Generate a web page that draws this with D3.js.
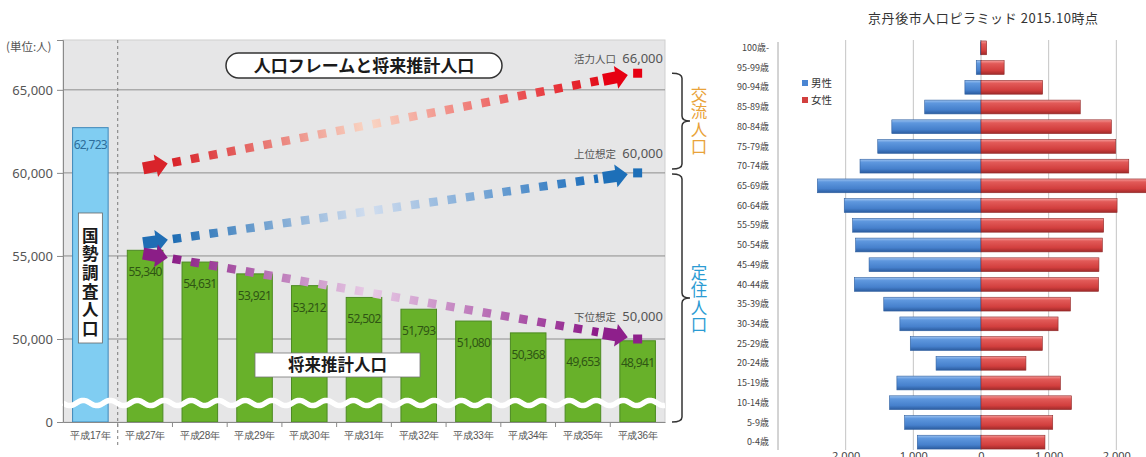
<!DOCTYPE html>
<html>
<head>
<meta charset="utf-8">
<script src="https://cdn.jsdelivr.net/npm/d3@7"></script>
<style>
  html, body { margin: 0; padding: 0; background: #fff; }
  svg { display: block; font-family: "Noto Sans CJK JP", "Noto Sans", sans-serif; }
</style>
</head>
<body>
<svg id="chart" width="1146" height="457"></svg>
<script>
// ---- 人口フレームと将来推計人口 ----
const years = ["平成17年", "平成27年", "平成28年", "平成29年", "平成30年", "平成31年",
               "平成32年", "平成33年", "平成34年", "平成35年", "平成36年"];
const population = [62723, 55340, 54631, 53921, 53212, 52502, 51793, 51080, 50368, 49653, 48941];
const yTicks = [0, 50000, 55000, 60000, 65000];

// 将来の想定 (活力人口 / 上位想定 / 下位想定)
const scenarioNames = ["活力人口", "上位想定", "下位想定"];
const scenarioStart = [60300, 55780, 55120];
const scenarioEnd = [66000, 60000, 50000];

// ---- 京丹後市人口ピラミッド 2015.10時点 ----
const ageGroups = ["0-4歳", "5-9歳", "10-14歳", "15-19歳", "20-24歳", "25-29歳", "30-34歳",
                   "35-39歳", "40-44歳", "45-49歳", "50-54歳", "55-59歳", "60-64歳", "65-69歳",
                   "70-74歳", "75-79歳", "80-84歳", "85-89歳", "90-94歳", "95-99歳", "100歳-"];
const male   = [941, 1129, 1352, 1243, 664, 1045, 1199, 1437, 1872, 1654, 1853, 1897, 2021, 2418,
                1788, 1526, 1318, 832, 238, 70, 8];
const female = [945, 1060, 1337, 1174, 664, 906, 1139, 1322, 1738, 1743, 1793, 1813, 2011, 2650,
                2184, 1991, 1927, 1467, 911, 342, 84];
const pyramidTicks = [-2000, -1000, 0, 1000, 2000];
const sexLabels = ["男性", "女性"];

// colours
const scenarioColors = [
  { strong: "#e60012", end: "#e3101c", pale: "#f9d6c4", start: "#d9232a" },
  { strong: "#1d6fb8", end: "#1b6dbb", pale: "#d2deef", start: "#1f6db4" },
  { strong: "#8e1f8b", end: "#8d1a89", pale: "#e8cce6", start: "#8b1e87" }
];
// gap between each scenario's label and its end marker
const scenarioLabelGap = [10, 15, 18];

const svg = d3.select("#chart");
const defs = svg.append("defs");

/* ================= left chart ================= */
const plot = { left: 63, right: 665, top: 40, bottom: 422 };
const x = d3.scaleBand().domain(years).range([plot.left, plot.right])
  .paddingInner(0.35).paddingOuter(0.175);
// broken axis: 0 at the baseline, 50,000–68,000 stretched above the break
const y = d3.scaleLinear().domain([0, 50000, 68000]).range([plot.bottom, 339, plot.top]);

const left = svg.append("g");

left.append("rect")
  .attr("x", plot.left).attr("y", plot.top)
  .attr("width", plot.right - plot.left).attr("height", plot.bottom - plot.top)
  .attr("fill", "#e6e6e7").attr("stroke", "#cfcfcf");

// horizontal grid
left.append("g").selectAll("line")
  .data(yTicks.filter(d => d > 0))
  .join("line")
  .attr("x1", plot.left).attr("x2", plot.right)
  .attr("y1", d => y(d)).attr("y2", d => y(d))
  .attr("stroke", "#8e8e8e").attr("stroke-width", 1);

// dashed separator between 国勢調査 and 将来推計
const sepX = x(years[1]) - x.step() * x.paddingInner() / 2;
left.append("line")
  .attr("x1", sepX).attr("x2", sepX)
  .attr("y1", plot.top).attr("y2", plot.bottom + 24)
  .attr("stroke", "#7a7a7a").attr("stroke-dasharray", "3,3").attr("stroke-width", 1);

// bars
const barData = years.map((d, i) => ({ year: d, value: population[i], census: i === 0 }));
left.append("g").selectAll("rect")
  .data(barData)
  .join("rect")
  .attr("x", d => x(d.year)).attr("width", x.bandwidth())
  .attr("y", d => y(d.value)).attr("height", d => y(0) - y(d.value))
  .attr("fill", d => d.census ? "#80cdf2" : "#68b12a")
  .attr("stroke", d => d.census ? "#3f88ba" : "#4c8a22")
  .attr("stroke-width", 1);

// value labels
left.append("g").selectAll("text")
  .data(barData)
  .join("text")
  .attr("x", d => x(d.year) + x.bandwidth() / 2)
  .attr("y", d => y(d.value) + (d.census ? 21 : 26))
  .attr("text-anchor", "middle")
  .attr("font-size", 12).attr("letter-spacing", -0.7)
  .attr("font-family", "'Noto Sans', sans-serif")
  .attr("fill", d => d.census ? "#2c6d9b" : "#2f5514")
  .text(d => d3.format(",")(d.value));

// wavy break line
const waveY = y(0) - 19;
const wavePts = d3.range(plot.left, plot.right + 1, 1)
  .map(px => [px, waveY + 2.6 * Math.sin((px - plot.left) / 27 * 2 * Math.PI)]);
left.append("path")
  .attr("d", d3.line()(wavePts))
  .attr("fill", "none").attr("stroke", "#fff").attr("stroke-width", 5.5);

// axes
const yAxis = left.append("g")
  .attr("transform", `translate(${plot.left},0)`)
  .call(d3.axisLeft(y).tickValues(yTicks).tickSize(6).tickPadding(4).tickFormat(d3.format(",")));
yAxis.select(".domain").attr("stroke", "#8a8a8a");
yAxis.selectAll(".tick line").attr("stroke", "#8a8a8a");
yAxis.selectAll(".tick text").attr("font-size", 13).attr("fill", "#555")
  .attr("font-family", "'Noto Sans', sans-serif");

const xAxis = left.append("g")
  .attr("transform", `translate(0,${plot.bottom})`)
  .call(d3.axisBottom(x).tickSize(0).tickPadding(10));
xAxis.select(".domain").attr("stroke", "#8a8a8a");
xAxis.selectAll(".tick text").attr("font-size", 10).attr("fill", "#555").attr("letter-spacing", -0.2);
// tick marks between categories
left.append("g").selectAll("line")
  .data(d3.range(1, years.length))
  .join("line")
  .attr("x1", i => plot.left + i * x.step()).attr("x2", i => plot.left + i * x.step())
  .attr("y1", plot.bottom).attr("y2", plot.bottom + 5)
  .attr("stroke", "#8a8a8a");

left.append("text")
  .attr("x", 6).attr("y", 51)
  .attr("font-size", 11.5).attr("fill", "#555")
  .text("(単位:人)");

// scenario arrows
const arrowShape = "M0,-6L13,-6L13,-11.5L25,0L13,11.5L13,6L0,6Z";
const xFrom = x(years[1]) + x.bandwidth() / 2;
const xTo = x(years[years.length - 1]) + x.bandwidth() / 2;

const scen = left.append("g");
scenarioNames.forEach((name, i) => {
  const c = scenarioColors[i];
  const A = [xFrom, y(scenarioStart[i])];
  const B = [xTo, y(scenarioEnd[i])];
  const len = Math.hypot(B[0] - A[0], B[1] - A[1]);
  const u = [(B[0] - A[0]) / len, (B[1] - A[1]) / len];
  const ang = Math.atan2(u[1], u[0]) * 180 / Math.PI;
  const at = t => [A[0] + u[0] * t, A[1] + u[1] * t];

  const p0 = at(28), p1 = at(len - 40);
  const gid = "scen" + i;
  const g = defs.append("linearGradient").attr("id", gid)
    .attr("gradientUnits", "userSpaceOnUse")
    .attr("x1", p0[0]).attr("y1", p0[1]).attr("x2", p1[0]).attr("y2", p1[1]);
  g.append("stop").attr("offset", 0).attr("stop-color", c.start);
  g.append("stop").attr("offset", 0.46).attr("stop-color", c.pale);
  g.append("stop").attr("offset", 1).attr("stop-color", c.end);

  scen.append("line")
    .attr("x1", p0[0]).attr("y1", p0[1]).attr("x2", p1[0]).attr("y2", p1[1])
    .attr("stroke", `url(#${gid})`).attr("stroke-width", 8.5)
    .attr("stroke-dasharray", "8.5,10");

  const s = at(-2);
  scen.append("path").attr("d", arrowShape)
    .attr("transform", `translate(${s[0]},${s[1]}) rotate(${ang})`)
    .attr("fill", c.start);
  const e = at(len - 35);
  scen.append("path").attr("d", arrowShape)
    .attr("transform", `translate(${e[0]},${e[1]}) rotate(${ang})`)
    .attr("fill", c.strong);
  scen.append("rect")
    .attr("x", B[0] - 4.5).attr("y", B[1] - 4.5).attr("width", 9).attr("height", 9)
    .attr("fill", c.strong);

  const ly = y(scenarioEnd[i]) - scenarioLabelGap[i];
  scen.append("text")
    .attr("x", 616).attr("y", ly)
    .attr("text-anchor", "end").attr("font-size", 10.5).attr("fill", "#555")
    .text(name);
  scen.append("text")
    .attr("x", 663).attr("y", ly)
    .attr("text-anchor", "end").attr("font-size", 13).attr("fill", "#555")
    .attr("font-family", "'Noto Sans', sans-serif")
    .text(d3.format(",")(scenarioEnd[i]));
});

// title pill
left.append("rect")
  .attr("x", 226).attr("y", 53).attr("width", 276).attr("height", 25).attr("rx", 12.5)
  .attr("fill", "#fff").attr("stroke", "#333").attr("stroke-width", 1.5);
left.append("text")
  .attr("x", 364).attr("y", 71.5).attr("text-anchor", "middle")
  .attr("font-size", 17).attr("font-weight", 700).attr("fill", "#1a1a1a")
  .text("人口フレームと将来推計人口");

// 将来推計人口 label box
left.append("rect")
  .attr("x", 255).attr("y", 353).attr("width", 165).attr("height", 24)
  .attr("fill", "#fff").attr("stroke", "#777").attr("stroke-width", 0.8);
left.append("text")
  .attr("x", 337.5).attr("y", 371).attr("text-anchor", "middle")
  .attr("font-size", 16.5).attr("font-weight", 700).attr("fill", "#1a1a1a")
  .text("将来推計人口");

// vertical (tategaki) text: one text element, glyphs stacked top to bottom
function verticalText(parent, str, cx, top, step, size, color, weight) {
  parent.append("text")
    .attr("x", cx).attr("y", top)
    .style("writing-mode", "vertical-rl")
    .style("text-orientation", "upright")
    .attr("font-size", size).attr("font-weight", weight)
    .attr("letter-spacing", step - size)
    .attr("fill", color)
    .text(str);
}

// 国勢調査人口 box
const cx0 = x(years[0]) + x.bandwidth() / 2;
left.append("rect")
  .attr("x", cx0 - 12).attr("y", 213).attr("width", 24).attr("height", 130)
  .attr("fill", "#fff").attr("stroke", "#666").attr("stroke-width", 0.8);
verticalText(left, "国勢調査人口", cx0, 227, 18.7, 16.5, "#1a1a1a", 700);

// brackets
function bracket(x0, yTop, yBot) {
  const xm = x0 + 10, tip = x0 + 18, ym = (yTop + yBot) / 2, r = 5;
  return `M${x0},${yTop}Q${xm},${yTop} ${xm},${yTop + r}L${xm},${ym - r}` +
         `Q${xm},${ym} ${tip},${ym}Q${xm},${ym} ${xm},${ym + r}` +
         `L${xm},${yBot - r}Q${xm},${yBot} ${x0},${yBot}`;
}
left.append("path").attr("d", bracket(672, y(66000), y(60000) - 4))
  .attr("fill", "none").attr("stroke", "#333").attr("stroke-width", 1.5);
left.append("path").attr("d", bracket(672, y(60000) + 1, y(0)))
  .attr("fill", "none").attr("stroke", "#333").attr("stroke-width", 1.5);
verticalText(left, "交流人口", 699, 86, 17.5, 16.5, "#e9a33a", 400);
verticalText(left, "定住人口", 699, 264, 17.5, 16.5, "#2b9bd3", 400);

/* ================= population pyramid ================= */
const pyr = svg.append("g");
const px = d3.scaleLinear().domain([-3000, 3000]).range([778, 1184]);
const py = d3.scaleBand().domain(ageGroups.slice().reverse()).range([38, 452])
  .paddingInner(0.3).paddingOuter(0.15);

pyr.append("text")
  .attr("x", 983).attr("y", 23).attr("text-anchor", "middle")
  .attr("font-size", 13).attr("fill", "#333")
  .attr("textLength", 230).attr("lengthAdjust", "spacing")
  .text("京丹後市人口ピラミッド 2015.10時点");

// grid
pyr.append("g").selectAll("line")
  .data(pyramidTicks)
  .join("line")
  .attr("x1", d => px(d)).attr("x2", d => px(d))
  .attr("y1", 40).attr("y2", 450)
  .attr("stroke", "#c4c4c4").attr("stroke-width", 1);
pyr.append("line")
  .attr("x1", px(-3000)).attr("x2", px(-3000)).attr("y1", 42).attr("y2", 450)
  .attr("stroke", "#a8a8a8");

// glossy gradients
function gloss(id, stops) {
  const g = defs.append("linearGradient").attr("id", id)
    .attr("x1", 0).attr("y1", 0).attr("x2", 0).attr("y2", 1);
  stops.forEach(([o, col]) => g.append("stop").attr("offset", o).attr("stop-color", col));
}
gloss("maleGloss", [[0, "#9cc2f0"], [0.22, "#5e97de"], [0.7, "#4680cc"], [1, "#2b5c9f"]]);
gloss("femaleGloss", [[0, "#f59a98"], [0.22, "#e25a58"], [0.7, "#d23f3e"], [1, "#a02a2a"]]);

const rows = ageGroups.map((a, i) => ({ age: a, m: male[i], f: female[i] }));
pyr.append("g").selectAll("rect")
  .data(rows)
  .join("rect")
  .attr("x", d => px(-d.m)).attr("width", d => px(0) - px(-d.m))
  .attr("y", d => py(d.age)).attr("height", py.bandwidth())
  .attr("fill", "url(#maleGloss)").attr("stroke", "#2f5f9f").attr("stroke-width", 0.6);
pyr.append("g").selectAll("rect")
  .data(rows)
  .join("rect")
  .attr("x", px(0)).attr("width", d => px(d.f) - px(0))
  .attr("y", d => py(d.age)).attr("height", py.bandwidth())
  .attr("fill", "url(#femaleGloss)").attr("stroke", "#8f2a2a").attr("stroke-width", 0.6);

// age labels
pyr.append("g").selectAll("text")
  .data(ageGroups)
  .join("text")
  .attr("x", 769).attr("y", d => py(d) + py.bandwidth() / 2 + 3.2)
  .attr("text-anchor", "end").attr("font-size", 9).attr("fill", "#444")
  .text(d => d);

// bottom value axis (runs off the lower edge of the page)
const pAxis = pyr.append("g")
  .attr("transform", "translate(0,450)")
  .call(d3.axisBottom(px).tickValues(pyramidTicks).tickSize(0).tickPadding(2)
    .tickFormat(d => d3.format(",")(Math.abs(d))));
pAxis.select(".domain").remove();
pAxis.selectAll(".tick text").attr("font-size", 11).attr("fill", "#444")
  .attr("font-family", "'Noto Sans', sans-serif");

// legend
const legColors = ["#4a85d2", "#d2403e"];
sexLabels.forEach((lab, i) => {
  pyr.append("rect").attr("x", 802).attr("y", 80 + i * 17).attr("width", 6).attr("height", 6)
    .attr("fill", legColors[i]);
  pyr.append("text").attr("x", 811).attr("y", 87 + i * 17)
    .attr("font-size", 10.5).attr("fill", "#333").text(lab);
});
</script>
</body>
</html>
